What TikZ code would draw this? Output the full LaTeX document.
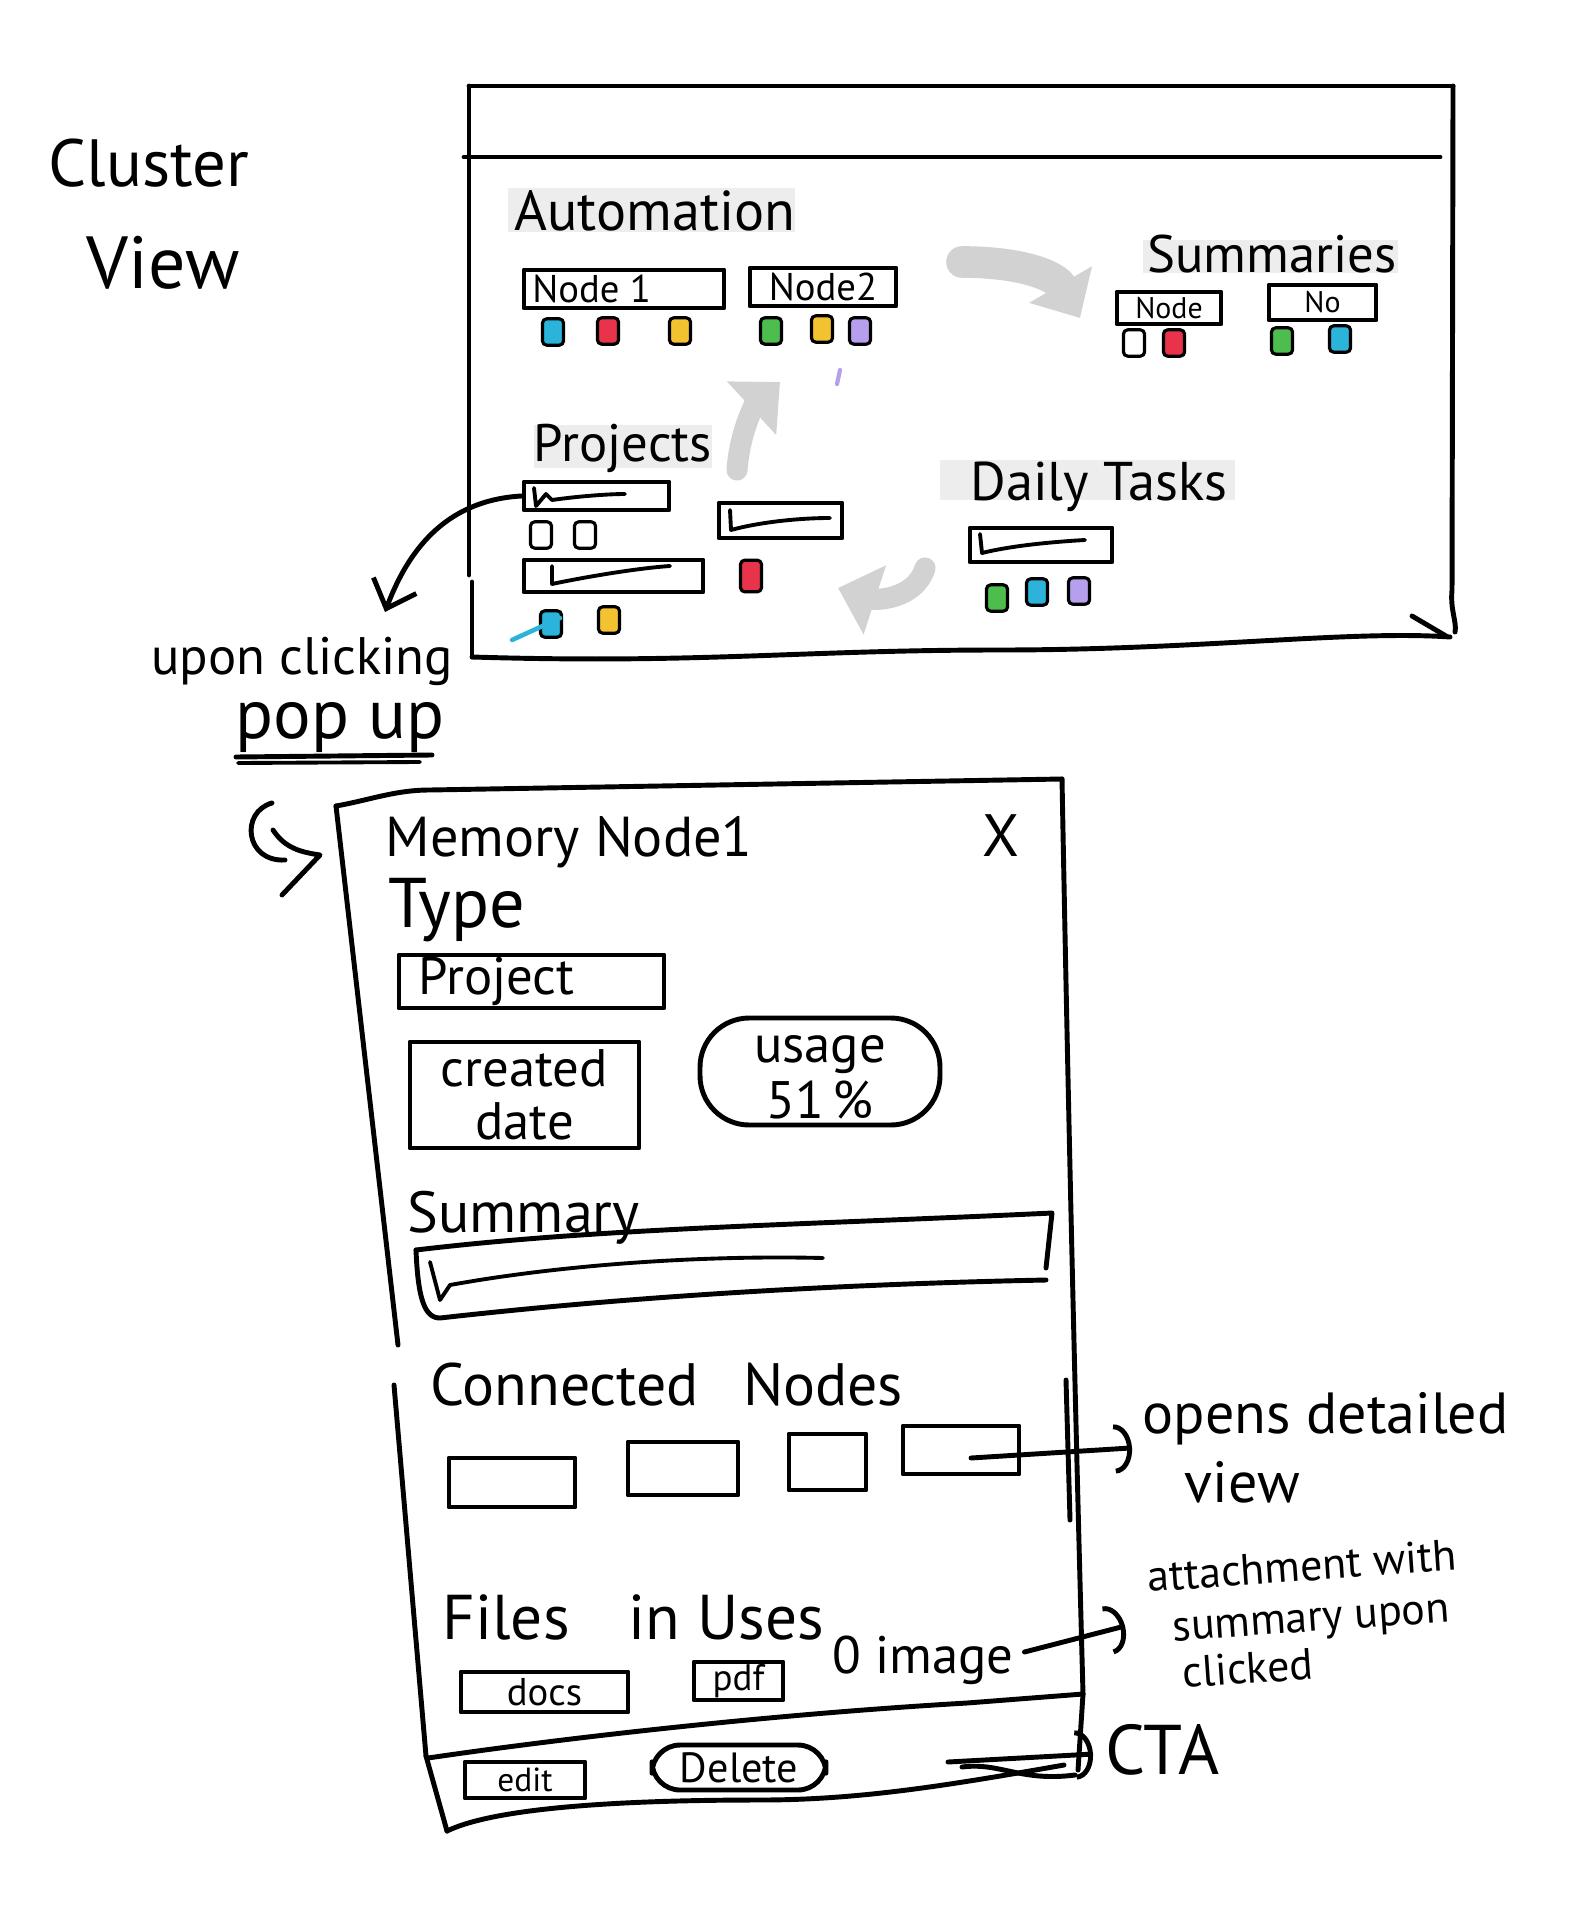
\documentclass[tikz,border=0pt]{standalone}
\usepackage{fontspec}
\setmainfont{PT Sans}
\usetikzlibrary{arrows.meta,fit,calc}
\definecolor{ccyan}{HTML}{2CB3D9}
\definecolor{cred}{HTML}{E8334A}
\definecolor{cyel}{HTML}{F2C230}
\definecolor{cgreen}{HTML}{4DBE4D}
\definecolor{cpurp}{HTML}{B6A0EE}
\definecolor{hlgray}{HTML}{EDEDED}
\definecolor{agray}{HTML}{D2D2D2}
\begin{document}
\begin{tikzpicture}[x=0.01cm,y=-0.01cm,line cap=round,line join=round,
  ink/.style={draw=black,line width=1.4pt},
  thinink/.style={draw=black,line width=1.1pt},
  hand/.style={inner sep=0pt,font=\fontsize{#1}{#1}\selectfont},
  fbox/.style={ink,fit={#1},inner sep=0pt},
  chip/.style={draw=black,line width=0.9pt,fill=#1,minimum width=6pt,minimum height=7.5pt,inner sep=0pt,rounded corners=1.2pt},
  garrow/.style={draw=agray,line width=#1,-{Triangle[length=11pt,width=20pt]}},
  barb/.style={-{Arc Barb[length=5pt,width=14pt]}}]
\fill[white] (0,0) rectangle (1577,1919);
\useasboundingbox (0,0) rectangle (1577,1919);

% title
\node[hand=19,anchor=west] (tcl) at (48,163) {Cluster};
\node[hand=21,anchor=west] (tvw) at (86,263) {View};

% ---------- cluster window ----------
\draw[ink] (469,86) -- (1453,86);
\draw[ink] (469,86) -- (469,575);
\draw[ink] (472,582) -- (472,657);
\draw[ink] (1453,86) -- (1452,590) .. controls (1450,610) and (1457,622) .. (1455,632);
\draw[ink] (472,657) .. controls (700,664) and (800,650) .. (1000,650) .. controls (1200,650) and (1350,630) .. (1450,637);
\draw[ink] (1412,616) -- (1446,636);
\draw[ink] (464,157) -- (1440,157);

% Automation
\fill[hlgray] (508,188) rectangle (795,232);
\node[hand=16,anchor=west] (auto) at (514,211) {Automation};
\node[fbox={(524,270)(724,308)}] (n1) {};
\node[hand=11,anchor=west] (n1t) at ($(n1.west)+(10,0)$) {Node 1};
\node[fbox={(750,268)(896,306)}] (n2) {};
\node[hand=11] (n2t) at (n2.center) {Node2};
\node[chip=ccyan] (a1) at (553,332) {};
\node[chip=cred] (a2) at (608,331) {};
\node[chip=cyel] (a3) at (680,331) {};
\node[chip=cgreen] (b1) at (771,331) {};
\node[chip=cyel] (b2) at (822,329) {};
\node[chip=cpurp] (b3) at (860,331) {};
\draw[cpurp,line width=1.2pt] (840,370) -- (837,384);

% Summaries
\fill[hlgray] (1143,240) rectangle (1398,273);
\node[hand=15] (summ) at (1272,254) {Summaries};
\node[fbox={(1117,292)(1221,324)}] (s1) {};
\node[hand=8.5] (s1t) at (s1.center) {Node};
\node[fbox={(1269,285)(1376,320)}] (s2) {};
\node[hand=8.5] (s2t) at (s2.center) {No};
\node[chip=white] (sc1) at (1134,343) {};
\node[chip=cred] (sc2) at (1174,343) {};
\node[chip=cgreen] (sc3) at (1282,341) {};
\node[chip=ccyan] (sc4) at (1340,339) {};

% Projects
\fill[hlgray] (534,425) rectangle (712,468);
\node[hand=15] (projl) at (623,448) {Projects};
\node[fbox={(524,482)(669,510)}] (p1) {};
\draw[thinink] (534,488) -- (536,506) -- (546,494) -- (552,500) .. controls (580,496) and (610,494) .. (625,494);
\node[chip=white] (pd1) at (541,535) {};
\node[chip=white] (pd2) at (585,535) {};
\node[fbox={(719,503)(842,538)}] (p2) {};
\draw[thinink] (730,510) -- (731,530) .. controls (760,522) and (800,518) .. (830,518);
\node[fbox={(524,560)(703,592)}] (p3) {};
\draw[thinink] (552,566) -- (552,584) .. controls (590,576) and (640,568) .. (670,566);
\node[chip=cred,minimum height=9pt] (pr) at (751,576) {};
\node[chip=ccyan] (pc1) at (551,624) {};
\node[chip=cyel] (pc2) at (609,620) {};
\draw[ccyan,line width=1.3pt] (512,640) -- (560,618);

% Daily Tasks
\fill[hlgray] (940,460) rectangle (1235,500);
\node[hand=15.5] (daily) at (1099,487) {Daily Tasks};
\node[fbox={(970,528)(1112,562)}] (d1) {};
\draw[thinink] (980,534) -- (982,553) .. controls (1010,546) and (1050,542) .. (1085,540);
\node[chip=cgreen] (dc1) at (997,598) {};
\node[chip=ccyan] (dc2) at (1037,592) {};
\node[chip=cpurp] (dc3) at (1079,591) {};

% grey flow arrows
\draw[garrow=9pt] (962,262) .. controls (1020,262) and (1055,275) .. (1080,318);
\draw[garrow=6pt] (737,470) .. controls (740,430) and (755,405) .. (780,382);
\draw[garrow=6pt] (925,568) .. controls (915,600) and (875,600) .. (838,588);

% click annotation
\node[hand=15] (up) at (302,661) {upon clicking};
\node[hand=20] (pop) at (340,728) {pop up};
\draw[ink] (236,757) -- (432,755);
\draw[thinink] (238,763) -- (420,762);
\coordinate (clk) at (385,612);
\draw[ink,-{Straight Barb[length=7pt,width=13pt]}] (p1.west) .. controls (450,500) and (410,545) .. (clk);

% ---------- popup ----------
\draw[ink] (272,803) .. controls (240,812) and (245,862) .. (285,860);
\draw[ink] (273,830) .. controls (285,848) and (300,852) .. (320,855) -- (282,895);
\draw[ink] (336,806) .. controls (370,800) and (395,790) .. (430,790) -- (1062,779);
\draw[ink] (1062,779) .. controls (1068,1100) and (1075,1400) .. (1083,1694);
\draw[ink] (1066,1380) -- (1070,1520);
\draw[ink] (336,806) -- (398,1345);
\draw[ink] (394,1385) -- (426,1756);
\draw[ink] (428,1758) .. controls (550,1740) and (760,1715) .. (967,1703) -- (1083,1694);
\draw[ink] (1083,1694) -- (1078,1770);
\draw[ink] (426,1756) -- (447,1831);
\draw[ink] (447,1831) .. controls (490,1810) and (600,1800) .. (760,1800) .. controls (860,1800) and (950,1785) .. (1064,1765);
\draw[ink] (962,1767) .. controls (1000,1762) and (1020,1782) .. (1075,1775);

\node[hand=16,anchor=west] (mem) at (385,842) {Memory Node1};
\node[hand=17] (close) at (1001,836) {X};
\node[hand=20,anchor=west] (type) at (388,910) {Type};
\node[fbox={(399,955)(664,1008)}] (proj) {};
\node[hand=15,anchor=west] (projt) at (418,981) {Project};
\node[fbox={(410,1042)(639,1148)}] (cdate) {};
\node[hand=15,align=center] (cdatet) at (cdate.center) {created\\[0pt]date};
\node[fbox={(700,1018)(940,1125)},rounded corners=14pt] (usage) {};
\node[hand=15,align=center] (usaget) at ($(usage.center)+(0,6)$) {usage\\[1pt]51\,\%};

\node[hand=16.5,anchor=west] (sumt) at (407,1218) {Summary};
\draw[ink] (416,1250) .. controls (600,1228) and (800,1225) .. (1052,1213) -- (1046,1268);
\draw[ink] (1046,1280) .. controls (800,1285) and (600,1300) .. (440,1318) .. controls (425,1318) and (418,1300) .. (416,1250);
\draw[thinink] (430,1262) -- (440,1300) -- (450,1285) .. controls (560,1265) and (700,1255) .. (823,1258);

\node[hand=17,anchor=west] (conn) at (430,1385) {Connected\hspace{8pt} Nodes};
\node[fbox={(449,1458)(575,1507)}] (cn1) {};
\node[fbox={(628,1442)(738,1495)}] (cn2) {};
\node[fbox={(789,1434)(866,1490)}] (cn3) {};
\node[fbox={(903,1426)(1019,1474)}] (cn4) {};
\node[hand=16.5,anchor=north west,align=left] (open) at (1142,1392) {opens detailed\\[3pt]\hspace{12pt}view};
\draw[ink,barb] ($(cn4.center)+(10,8)$) -- ($(open.west)+(-10,0)$);

\node[hand=18,anchor=west] (files) at (442,1617) {Files\hspace{12pt} in Uses};
\node[fbox={(461,1672)(628,1712)}] (docs) {};
\node[hand=11] (docst) at (docs.center) {docs};
\node[fbox={(694,1662)(783,1700)}] (pdf) {};
\node[hand=10.5] (pdft) at (pdf.center) {pdf};
\node[hand=15,anchor=west] (img) at (832,1660) {0\hspace{4pt}image};
\node[hand=12.5,anchor=north west,align=left,rotate=4] (attach) at (1146,1560) {attachment with\\[2pt]\hspace{6pt}summary upon\\[1pt]\hspace{8pt}clicked};
\draw[ink,barb] ($(img.east)+(10,-8)$) -- (1125,1626);

\node[fbox={(465,1762)(585,1798)}] (edit) {};
\node[hand=9.5] (editt) at (edit.center) {edit};
\node[fbox={(652,1745)(826,1790)},rounded corners=8pt] (del) {};
\node[hand=12] (delt) at (del.center) {Delete};
\node[hand=20,anchor=west] (cta) at (1105,1750) {CTA};
\draw[ink,barb] (948,1762) -- ($(cta.west)+(-12,4)$);
\end{tikzpicture}
\end{document}
